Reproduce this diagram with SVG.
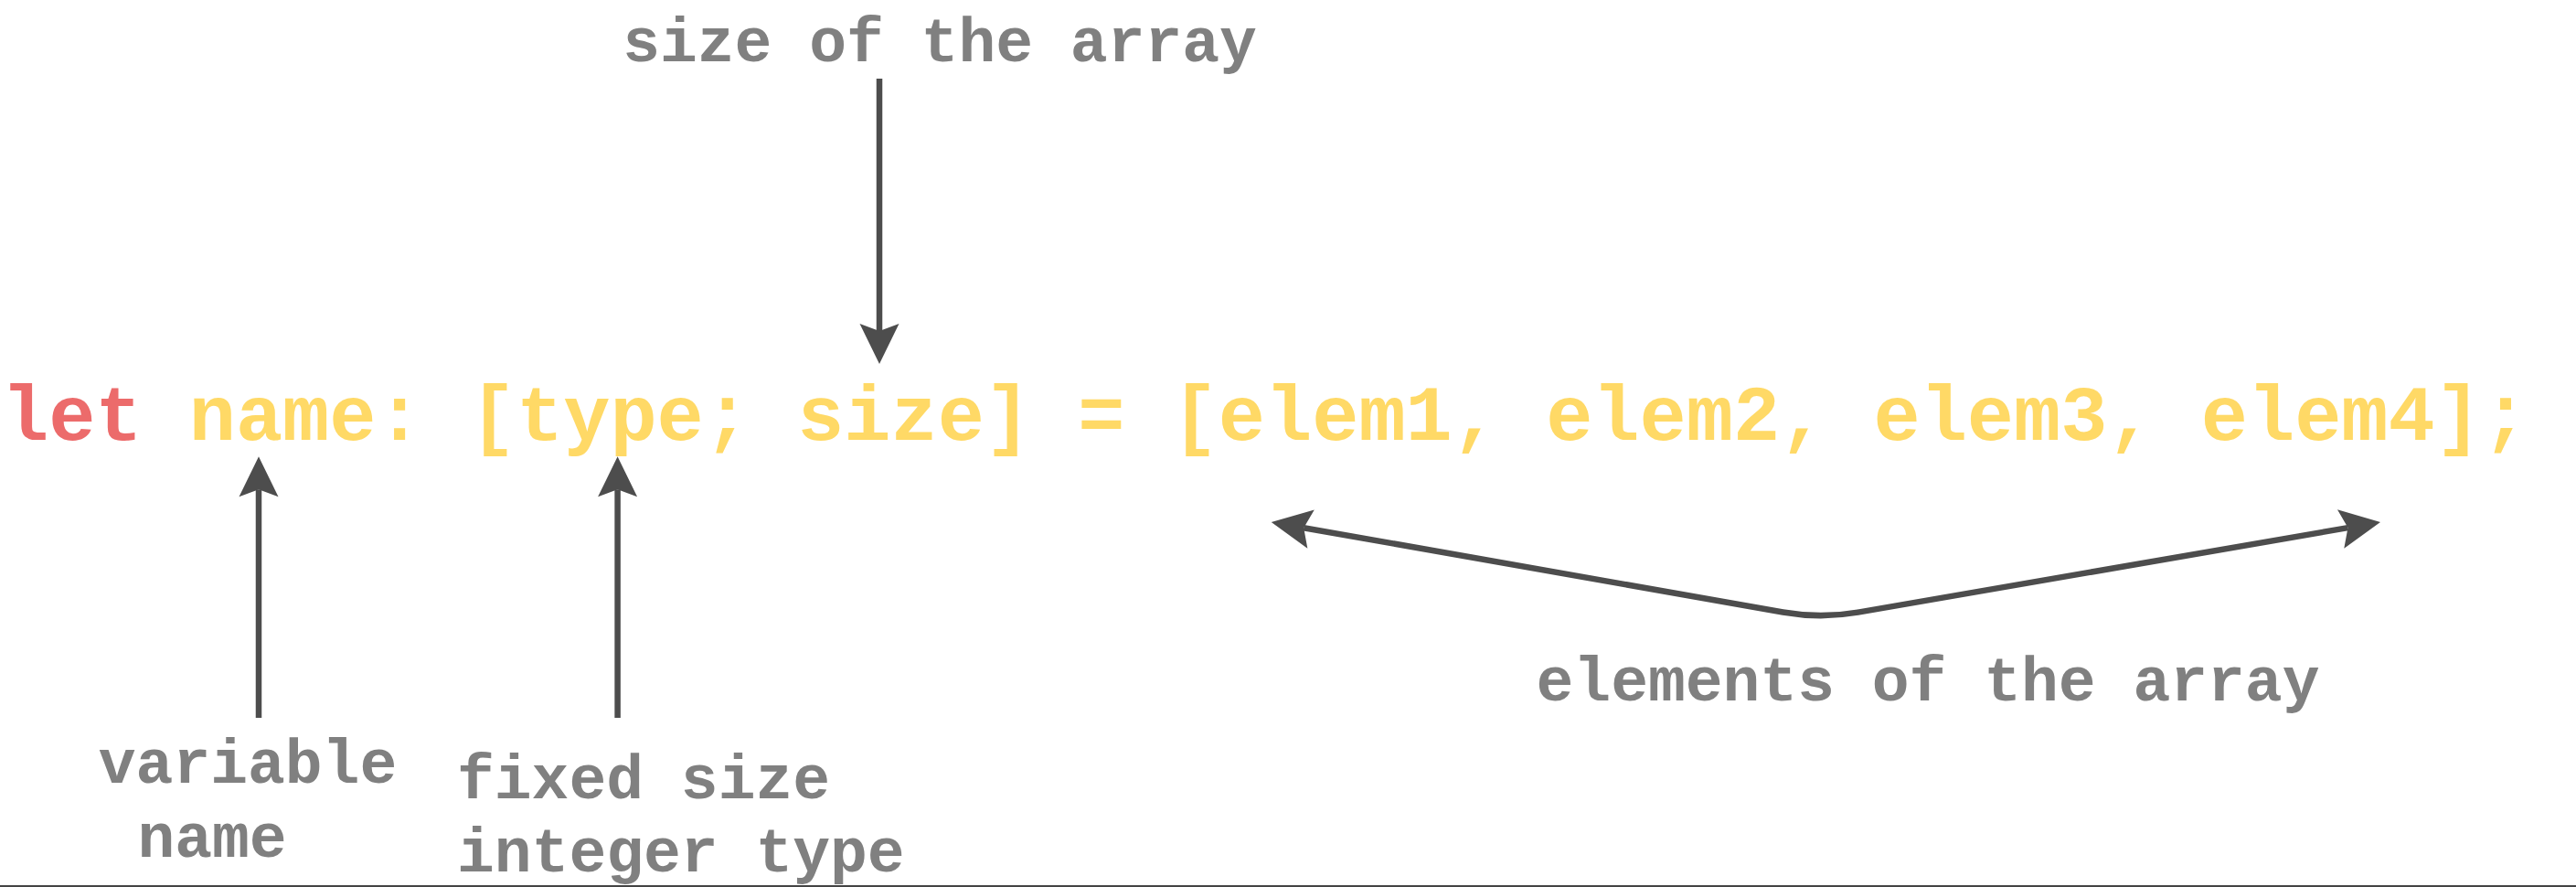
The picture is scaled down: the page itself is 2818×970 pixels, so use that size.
<svg xmlns="http://www.w3.org/2000/svg" width="2818" height="970" viewBox="0 0 2818 970">
  <style>
    .code { font-family: "Courier New", "Liberation Mono", monospace; font-weight: bold; font-size: 85.3px; }
    .kw { fill: #EC6B6B; }
    .id { fill: #FFD966; }
    .label { font-family: "Courier New", "Liberation Mono", monospace; font-weight: bold; font-size: 68px; fill: #808080; }
    .conn { fill: none; stroke: #4D4D4D; stroke-width: 6.5; }
  </style>
  <defs>
    <marker id="arrow" markerUnits="userSpaceOnUse" markerWidth="60" markerHeight="60" refX="8" refY="0" viewBox="-5 -30 60 60" orient="auto-start-reverse" overflow="visible">
      <path d="M 44 0 L 0 -21.5 L 8 0 L 0 21.5 Z" fill="#4D4D4D"/>
    </marker>
  </defs>
  <rect x="0" y="0" width="2818" height="970" fill="#FFFFFF"/>

  <g id="code-line">
    <text class="code" x="2" y="481"><tspan class="kw">let</tspan><tspan class="id"> name: [type; size] = [elem1, elem2, elem3, elem4];</tspan></text>
  </g>

  <g id="label-size">
    <text class="label" x="1028" y="67" text-anchor="middle">size of the array</text>
  </g>
  <g id="label-variable-name">
    <text class="label" x="271" y="856" text-anchor="middle">variable</text>
    <text class="label" x="232" y="937" text-anchor="middle">name</text>
  </g>
  <g id="label-type">
    <text class="label" x="500" y="873">fixed size</text>
    <text class="label" x="500" y="953">integer type</text>
  </g>
  <g id="label-elements">
    <text class="label" x="2109" y="766" text-anchor="middle">elements of the array</text>
  </g>

  <g id="connectors">
    <path class="conn" d="M 962 86 L 962 362" marker-end="url(#arrow)"/>
    <path class="conn" d="M 283 785 L 283 535.3" marker-end="url(#arrow)"/>
    <path class="conn" d="M 675.6 785 L 675.6 535.3" marker-end="url(#arrow)"/>
    <path class="conn" d="M 1426.2 577.2 L 1950.5 669.5 Q 1991.5 676.7 2032.5 669.6 L 2568.5 577.1" marker-start="url(#arrow)" marker-end="url(#arrow)"/>
  </g>

  <rect id="bottom-rule" x="0" y="968" width="2818" height="2" fill="#444444"/>
</svg>
